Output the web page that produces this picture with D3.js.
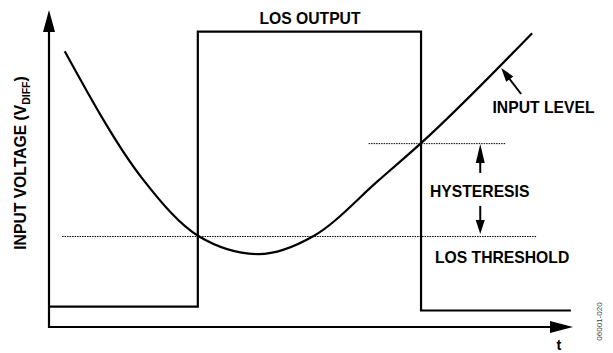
<!DOCTYPE html>
<html>
<head>
<meta charset="utf-8">
<script src="https://cdn.jsdelivr.net/npm/d3@7"></script>
<style>
    body { margin: 0; background: #fff; }
    text { font-family: "Liberation Sans", Arial, sans-serif; font-weight: bold; fill: #000; }
</style>
</head>
<body>
<div id="plot"></div>
<script>
let svgWidth = 613;
let svgHeight = 353;

// Time (t) and voltage, both in arbitrary units 0..100
let inputT = [3, 18, 28.5, 40, 50.5, 63, 71, 92.2];
let inputV = [87, 46.4, 28.7, 23, 28.7, 46.4, 58, 92.7];

let losT = [0, 28.4, 28.4, 71, 71, 99.6];
let losV = [6.4, 6.4, 93.2, 93.2, 5.2, 5.2];

let thresholdV = 28.7;
let thresholdT = [2.5, 93.1];
let hysteresisV = 58;
let hysteresisT = [61, 87.2];

let xLabel = 't';
let yLabel = ['INPUT VOLTAGE (V', 'DIFF', ')'];

let $svg = d3.select('#plot')
    .append('svg')
    .attr('width', svgWidth)
    .attr('height', svgHeight);

let xScale = d3.scaleLinear()
    .domain([0, 100])
    .range([49, 573]);

let yScale = d3.scaleLinear()
    .domain([0, 100])
    .range([327, 10]);

// Filled arrowhead, tip at (x, y), pointing along angle (radians)
function arrowHead(x, y, angle, len, half) {
    let bx = x - len * Math.cos(angle);
    let by = y - len * Math.sin(angle);
    let px = half * Math.sin(angle);
    let py = -half * Math.cos(angle);
    $svg.append('polygon')
        .attr('points', [[x, y], [bx + px, by + py], [bx - px, by - py]].map(p => p.join(',')).join(' '))
        .attr('fill', '#000');
}

function arrow(t0, v0, t1, v1, len, half) {
    let x0 = xScale(t0), y0 = yScale(v0), x1 = xScale(t1), y1 = yScale(v1);
    let angle = Math.atan2(y1 - y0, x1 - x0);
    $svg.append('line')
        .attr('x1', x0).attr('y1', y0)
        .attr('x2', x1 - (len - 2) * Math.cos(angle))
        .attr('y2', y1 - (len - 2) * Math.sin(angle))
        .attr('stroke', '#000')
        .attr('stroke-width', 2);
    arrowHead(x1, y1, angle, len, half);
}

// Axes (no ticks, just arrows)
let bottomAxis = d3.axisBottom(xScale).ticks(0).tickSizeOuter(0);
let leftAxis = d3.axisLeft(yScale).ticks(0).tickSizeOuter(0);

$svg.append('g')
    .attr('transform', `translate(0, ${yScale(0)})`)
    .call(bottomAxis)
    .select('.domain')
    .attr('stroke-width', 2.2)
    .attr('d', `M${xScale(0) - 1},0H${xScale(100) - 15}`);

$svg.append('g')
    .attr('transform', `translate(${xScale(0)}, 0)`)
    .call(leftAxis)
    .select('.domain')
    .attr('stroke-width', 2.2)
    .attr('d', `M0,${yScale(0) + 1}V${yScale(100) + 15}`);

arrowHead(xScale(100), yScale(0), 0, 23, 6);
arrowHead(xScale(0), yScale(100), -Math.PI / 2, 22, 6);

// Dotted threshold lines
$svg.append('line')
    .attr('x1', xScale(thresholdT[0])).attr('x2', xScale(thresholdT[1]))
    .attr('y1', yScale(thresholdV) + 0.5).attr('y2', yScale(thresholdV) + 0.5)
    .attr('stroke', '#000')
    .attr('stroke-width', 1)
    .attr('stroke-dasharray', '1.5,1');

$svg.append('line')
    .attr('x1', xScale(hysteresisT[0])).attr('x2', xScale(hysteresisT[1]))
    .attr('y1', yScale(hysteresisV) + 0.5).attr('y2', yScale(hysteresisV) + 0.5)
    .attr('stroke', '#000')
    .attr('stroke-width', 1)
    .attr('stroke-dasharray', '1.5,1');

// LOS output
let losLine = d3.line()
    .x(d => xScale(d[0]))
    .y(d => yScale(d[1]));

$svg.append('path')
    .datum(d3.zip(losT, losV))
    .attr('d', losLine)
    .attr('fill', 'none')
    .attr('stroke', '#000')
    .attr('stroke-width', 2.2);

// Input level curve
let inputLine = d3.line()
    .x(d => xScale(d[0]))
    .y(d => yScale(d[1]))
    .curve(d3.curveMonotoneX);

$svg.append('path')
    .datum(d3.zip(inputT, inputV))
    .attr('d', inputLine)
    .attr('fill', 'none')
    .attr('stroke', '#000')
    .attr('stroke-width', 2.2);

// Annotation arrows
arrow(90.1, 73.5, 86.3, 81.7, 14, 4.5);
arrow(82.3, 48.6, 82.3, 57.7, 19, 4.5);
arrow(82.3, 38.2, 82.3, 29.3, 14, 4.5);

// Labels
let fontSize = '15.7px';

$svg.append('text')
    .attr('x', 310).attr('y', 23.5)
    .attr('text-anchor', 'middle')
    .style('font-size', fontSize)
    .text('LOS OUTPUT');

$svg.append('text')
    .attr('x', 492.5).attr('y', 112.7)
    .style('font-size', fontSize)
    .text('INPUT LEVEL');

$svg.append('text')
    .attr('x', 430).attr('y', 197.3)
    .style('font-size', fontSize)
    .text('HYSTERESIS');

$svg.append('text')
    .attr('x', 435).attr('y', 263)
    .style('font-size', fontSize)
    .text('LOS THRESHOLD');

$svg.append('text')
    .attr('x', 556.5).attr('y', 350)
    .style('font-size', '14.5px')
    .text(xLabel);

let yText = $svg.append('text')
    .attr('transform', 'translate(26, 163) rotate(-90)')
    .attr('text-anchor', 'middle')
    .style('font-size', fontSize);
yText.append('tspan').text(yLabel[0]);
yText.append('tspan').attr('dy', 3.5).style('font-size', '10.5px').text(yLabel[1]);
yText.append('tspan').attr('dy', -3.5).text(yLabel[2]);

$svg.append('text')
    .attr('transform', 'translate(602.3, 321.5) rotate(-90)')
    .attr('text-anchor', 'middle')
    .style('font-size', '8px')
    .style('font-weight', 'normal')
    .style('fill', '#444')
    .text('06001-020');
</script>
</body>
</html>
